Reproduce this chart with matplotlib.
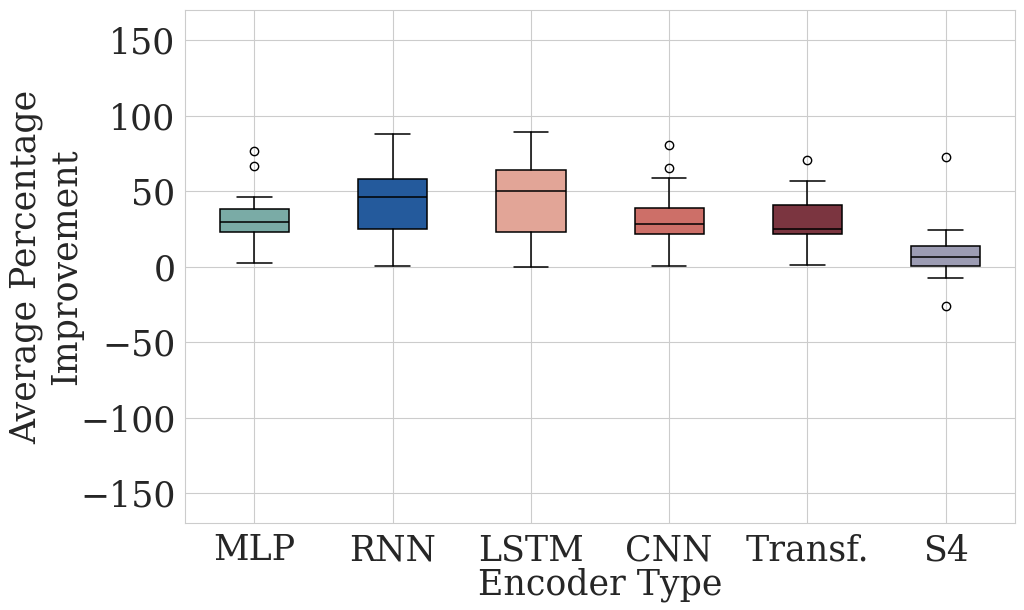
import matplotlib
matplotlib.use('Agg')
import matplotlib.pyplot as plt
import seaborn as sns

sns.set_style('whitegrid')
plt.rcParams['font.family'] = ['DejaVu Serif']

# valeurs
encoders = ['MLP', 'RNN', 'LSTM', 'CNN', 'Transf.', 'S4']
whisker_low = [2.2, 0.2, 0.0, 0.4, 1.3, -7.3]
q1 = [23.2, 25.2, 22.8, 21.4, 21.7, 0.4]
median = [29.7, 46.2, 49.8, 28.5, 24.7, 6.4]
q3 = [37.8, 58.2, 64.2, 38.7, 40.9, 13.5]
whisker_high = [46.0, 88.0, 88.9, 58.6, 56.6, 24.5]
outliers = [[76.8, 66.6], [], [], [80.7, 65.0], [70.3], [72.5, -26.1]]
colors = ['#7aaba6', '#245a9c', '#e2a597', '#cd6f68', '#7b3540', '#9c9cb3']

stats = []
for i in range(len(encoders)):
    stats.append({'label': encoders[i], 'whislo': whisker_low[i], 'q1': q1[i],
                  'med': median[i], 'q3': q3[i], 'whishi': whisker_high[i],
                  'fliers': outliers[i]})

fig, ax = plt.subplots(figsize=(10.24, 6.1), dpi=100)
bp = ax.bxp(stats, widths=0.5, patch_artist=True,
            boxprops=dict(edgecolor='black', linewidth=1.1),
            medianprops=dict(color='black', linewidth=1.1),
            whiskerprops=dict(color='black', linewidth=1.1),
            capprops=dict(color='black', linewidth=1.1),
            flierprops=dict(marker='o', markerfacecolor='none',
                            markeredgecolor='black', markersize=6))
for patch, c in zip(bp['boxes'], colors):
    patch.set_facecolor(c)

ax.set_ylim(-170, 170)
ax.set_yticks([-150, -100, -50, 0, 50, 100, 150])
ax.tick_params(axis='both', labelsize=25)
ax.set_xlabel('Encoder Type', fontsize=25, labelpad=0)
ax.set_ylabel('Average Percentage\nImprovement', fontsize=25, labelpad=-2)

plt.subplots_adjust(left=0.181, right=0.991, top=0.984, bottom=0.142)
plt.savefig('out.png', dpi=100)
